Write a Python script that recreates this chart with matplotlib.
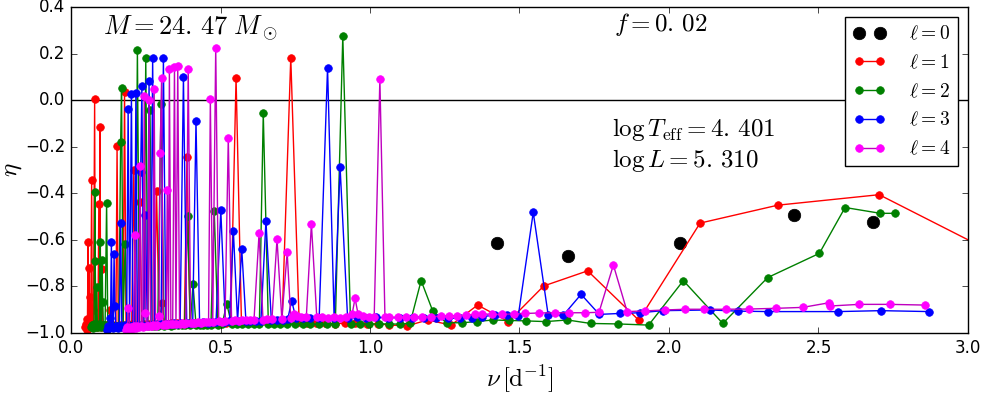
import numpy as np
import matplotlib
matplotlib.use("Agg")
import matplotlib.pyplot as plt

plt.style.use("classic")

# l = 0 radial modes
nu_l0 = [1.424, 1.662, 2.037, 2.418, 2.682]
eta_l0 = [-0.612, -0.670, -0.614, -0.494, -0.524]

# l = 1
nu_l1 = [0.047, 0.050, 0.053, 0.055, 0.057, 0.059, 0.060, 0.061, 0.062, 0.064,
         0.066, 0.069, 0.071, 0.073, 0.075, 0.079, 0.081, 0.084, 0.087, 0.090,
         0.093, 0.095, 0.097, 0.099, 0.101, 0.103, 0.106, 0.110, 0.114, 0.118,
         0.122, 0.126, 0.130, 0.134, 0.138, 0.142, 0.146, 0.150, 0.154, 0.158,
         0.163, 0.168, 0.174, 0.179, 0.184, 0.190, 0.196, 0.203, 0.210, 0.216,
         0.223, 0.230, 0.237, 0.245, 0.253, 0.262, 0.270, 0.278, 0.286, 0.295,
         0.304, 0.313, 0.323, 0.334, 0.345, 0.356, 0.368, 0.379, 0.388, 0.398,
         0.410, 0.423, 0.437, 0.452, 0.467, 0.483, 0.500, 0.517, 0.534, 0.552,
         0.570, 0.590, 0.610, 0.632, 0.655, 0.680, 0.706, 0.735, 0.763, 0.790,
         0.820, 0.850, 0.882, 0.915, 0.950, 0.990, 1.027, 1.065, 1.125, 1.193,
         1.271, 1.360, 1.463, 1.581, 1.728, 1.899, 2.104, 2.364, 2.703, 3.200]
eta_l1 = [-0.975, -0.960, -0.985, -0.940, -0.608, -0.975, -0.722, -0.980, -0.847, -0.975,
          -0.955, -0.343, -0.965, -0.900, -0.975, 0.003, -0.970, -0.960, -0.975, -0.965,
          -0.446, -0.970, -0.114, -0.965, -0.975, -0.727, -0.965, -0.975, -0.970, -0.965,
          -0.975, -0.965, -0.900, -0.970, -0.975, -0.965, -0.970, -0.975, -0.196, -0.970,
          -0.965, -0.975, -0.965, 0.035, -0.970, -0.965, -0.970, -0.960, -0.300, -0.965,
          -0.970, -0.436, -0.965, -0.960, -0.965, -0.960, -0.965, -0.960, -0.390, -0.962,
          -0.870, -0.962, -0.960, -0.958, -0.960, -0.958, -0.960, -0.958, -0.243, -0.958,
          -0.956, -0.958, -0.955, -0.957, -0.955, -0.956, -0.954, -0.955, -0.953, 0.096,
          -0.953, -0.952, -0.953, -0.951, -0.952, -0.950, -0.951, 0.183, -0.952, -0.955,
          -0.957, -0.958, -0.960, -0.958, -0.957, -0.962, -0.960, -0.966, -0.969, -0.944,
          -0.966, -0.880, -0.951, -0.798, -0.733, -0.945, -0.528, -0.451, -0.406, -0.730]

# l = 2
nu_l2 = [0.067, 0.070, 0.072, 0.075, 0.077, 0.080, 0.081, 0.083, 0.086, 0.088,
         0.090, 0.092, 0.095, 0.097, 0.099, 0.101, 0.104, 0.106, 0.108, 0.111,
         0.114, 0.119, 0.123, 0.127, 0.131, 0.136, 0.140, 0.145, 0.150, 0.155,
         0.160, 0.166, 0.169, 0.174, 0.181, 0.187, 0.194, 0.201, 0.208, 0.215,
         0.222, 0.229, 0.236, 0.243, 0.250, 0.257, 0.264, 0.272, 0.281, 0.290,
         0.301, 0.311, 0.322, 0.334, 0.346, 0.358, 0.370, 0.380, 0.390, 0.399,
         0.408, 0.418, 0.430, 0.443, 0.456, 0.468, 0.479, 0.491, 0.505, 0.521,
         0.537, 0.555, 0.573, 0.592, 0.612, 0.630, 0.643, 0.660, 0.680, 0.700,
         0.724, 0.748, 0.775, 0.800, 0.828, 0.856, 0.884, 0.909, 0.935, 0.965,
         0.998, 1.030, 1.065, 1.100, 1.134, 1.171, 1.210, 1.256, 1.307, 1.357,
         1.410, 1.465, 1.521, 1.588, 1.660, 1.738, 1.828, 1.932, 2.048, 2.180,
         2.330, 2.503, 2.589, 2.707, 2.755]
eta_l2 = [-0.975, -0.965, -0.980, -0.970, -0.960, -0.396, -0.691, -0.975, -0.804, -0.965,
          -0.975, -0.960, -0.970, -0.608, -0.965, -0.975, -0.687, -0.866, -0.965, -0.975,
          -0.965, -0.441, -0.970, -0.975, -0.965, -0.970, -0.975, -0.968, -0.972, -0.975,
          -0.968, -0.179, 0.053, -0.970, -0.618, -0.972, -0.968, -0.972, -0.970, -0.968,
          0.215, -0.970, -0.968, -0.972, 0.182, -0.968, -0.043, -0.970, -0.968, -0.970,
          -0.015, -0.968, -0.966, -0.968, -0.966, -0.967, -0.965, -0.966, -0.497, -0.966,
          -0.790, -0.965, -0.966, -0.964, -0.965, -0.964, -0.476, -0.964, -0.963, -0.875,
          -0.963, -0.962, -0.963, -0.962, -0.963, -0.961, -0.057, -0.962, -0.963, -0.962,
          -0.963, -0.962, -0.963, -0.961, -0.963, -0.962, -0.961, 0.275, -0.962, -0.960,
          -0.962, -0.961, -0.961, -0.962, -0.958, -0.775, -0.906, -0.956, -0.956, -0.951,
          -0.944, -0.946, -0.948, -0.951, -0.944, -0.959, -0.961, -0.966, -0.775, -0.959,
          -0.762, -0.658, -0.461, -0.486, -0.486]

# l = 3
nu_l3 = [0.120, 0.123, 0.126, 0.129, 0.132, 0.135, 0.138, 0.141, 0.144, 0.147,
         0.150, 0.154, 0.158, 0.162, 0.166, 0.170, 0.174, 0.178, 0.182, 0.186,
         0.191, 0.196, 0.202, 0.207, 0.212, 0.217, 0.222, 0.227, 0.233, 0.237,
         0.243, 0.249, 0.255, 0.261, 0.267, 0.273, 0.280, 0.287, 0.294, 0.301,
         0.309, 0.317, 0.326, 0.335, 0.345, 0.355, 0.365, 0.376, 0.387, 0.397,
         0.407, 0.418, 0.430, 0.443, 0.457, 0.471, 0.485, 0.501, 0.516, 0.530,
         0.543, 0.557, 0.571, 0.585, 0.600, 0.618, 0.635, 0.652, 0.670, 0.690,
         0.710, 0.725, 0.738, 0.752, 0.775, 0.800, 0.830, 0.858, 0.880, 0.900,
         0.925, 0.955, 0.985, 1.020, 1.060, 1.100, 1.140, 1.180, 1.220, 1.260,
         1.301, 1.340, 1.373, 1.418, 1.457, 1.496, 1.546, 1.596, 1.647, 1.706,
         1.767, 1.836, 1.903, 1.979, 2.137, 2.230, 2.330, 2.566, 2.709, 2.871]
eta_l3 = [-0.985, -0.970, -0.980, -0.937, -0.975, -0.608, -0.970, -0.980, -0.661, -0.884,
          -0.975, -0.968, -0.978, -0.970, -0.526, -0.975, -0.968, -0.975, -0.965, -0.975,
          -0.036, -0.970, 0.026, -0.972, -0.966, 0.031, -0.970, -0.965, -0.308, 0.061,
          -0.968, -0.492, -0.965, 0.082, -0.966, 0.182, -0.962, -0.965, -0.960, -0.963,
          0.179, -0.962, -0.960, -0.962, -0.958, -0.960, -0.958, 0.100, -0.958, -0.955,
          -0.957, -0.089, -0.955, -0.953, -0.955, -0.952, -0.953, -0.472, -0.952, -0.950,
          -0.561, -0.950, -0.639, -0.948, -0.949, -0.947, -0.948, -0.518, -0.946, -0.945,
          -0.944, -0.940, -0.861, -0.936, -0.937, -0.936, -0.935, 0.140, -0.935, -0.289,
          -0.934, -0.933, -0.934, -0.933, -0.934, -0.935, -0.936, -0.934, -0.937, -0.936,
          -0.937, -0.934, -0.930, -0.923, -0.923, -0.926, -0.482, -0.923, -0.923, -0.834,
          -0.920, -0.916, -0.913, -0.904, -0.901, -0.906, -0.908, -0.908, -0.904, -0.908]

# l = 4
nu_l4 = [0.184, 0.188, 0.192, 0.196, 0.200, 0.204, 0.209, 0.214, 0.218, 0.222,
         0.226, 0.231, 0.235, 0.240, 0.245, 0.249, 0.253, 0.257, 0.261, 0.266,
         0.270, 0.274, 0.278, 0.283, 0.288, 0.294, 0.298, 0.303, 0.308, 0.313,
         0.318, 0.322, 0.326, 0.329, 0.334, 0.340, 0.346, 0.351, 0.357, 0.363,
         0.370, 0.377, 0.384, 0.392, 0.400, 0.408, 0.416, 0.425, 0.434, 0.443,
         0.452, 0.460, 0.466, 0.474, 0.484, 0.494, 0.504, 0.515, 0.526, 0.537,
         0.549, 0.561, 0.573, 0.586, 0.599, 0.612, 0.629, 0.642, 0.656, 0.672,
         0.689, 0.705, 0.723, 0.735, 0.745, 0.755, 0.770, 0.787, 0.804, 0.822,
         0.840, 0.860, 0.880, 0.900, 0.920, 0.940, 0.950, 0.960, 0.975, 0.995,
         1.014, 1.033, 1.050, 1.065, 1.093, 1.120, 1.146, 1.174, 1.203, 1.237,
         1.264, 1.290, 1.320, 1.350, 1.373, 1.408, 1.440, 1.480, 1.520, 1.565,
         1.620, 1.667, 1.720, 1.766, 1.814, 1.860, 1.920, 1.987, 2.054, 2.118,
         2.190, 2.269, 2.357, 2.447, 2.536, 2.539, 2.636, 2.739, 2.856]
eta_l4 = [-0.985, -0.975, -0.894, -0.980, -0.975, -0.982, -0.972, -0.577, -0.978, -0.970,
          -0.975, -0.282, -0.970, -0.975, 0.017, -0.913, -0.970, -0.972, 0.000, -0.968,
          -0.972, -0.965, 0.047, -0.968, -0.965, -0.927, -0.229, 0.096, -0.965, -0.962,
          -0.966, -0.386, -0.962, 0.133, -0.963, -0.960, 0.143, -0.962, 0.147, -0.960,
          -0.958, -0.960, -0.957, 0.132, -0.957, -0.955, -0.957, -0.954, -0.955, -0.953,
          -0.954, -0.952, 0.003, -0.952, 0.226, -0.950, -0.951, -0.948, -0.162, -0.948,
          -0.946, -0.947, -0.945, -0.945, -0.943, -0.944, -0.572, -0.942, -0.941, -0.940,
          -0.597, -0.939, -0.654, -0.935, -0.920, -0.927, -0.930, -0.931, -0.532, -0.932,
          -0.933, -0.934, -0.933, -0.934, -0.932, -0.920, -0.851, -0.918, -0.928, -0.933,
          -0.932, 0.090, -0.933, -0.933, -0.932, -0.931, -0.930, -0.930, -0.930, -0.928,
          -0.927, -0.925, -0.924, -0.920, -0.918, -0.920, -0.920, -0.918, -0.916, -0.914,
          -0.913, -0.913, -0.913, -0.911, -0.708, -0.908, -0.905, -0.901, -0.898, -0.898,
          -0.898, -0.897, -0.894, -0.890, -0.870, -0.884, -0.877, -0.877, -0.880]

fig = plt.figure(figsize=(9.81, 3.94), facecolor="white")
ax = fig.add_axes([0.0724, 0.1548, 0.9143, 0.8274])

ax.axhline(0.0, color="black", lw=1.0)

ax.plot(nu_l0, eta_l0, "o", color="black", mec="black", ms=9, label=r"$\ell=0$")
ax.plot(nu_l1, eta_l1, "-o", color="r", mec="r", ms=5.5, label=r"$\ell=1$")
ax.plot(nu_l2, eta_l2, "-o", color="g", mec="g", ms=5.5, label=r"$\ell=2$")
ax.plot(nu_l3, eta_l3, "-o", color="b", mec="b", ms=5.5, label=r"$\ell=3$")
ax.plot(nu_l4, eta_l4, "-o", color="m", mfc="magenta", mec="magenta", ms=5.5, label=r"$\ell=4$")

ax.set_xlim(0.0, 3.0)
ax.set_ylim(-1.0, 0.4)
ax.set_xticks(np.arange(0.0, 3.01, 0.5))
ax.set_yticks(np.arange(-1.0, 0.41, 0.2))
ax.tick_params(labelsize=12)

ax.set_xlabel(r"$\nu\,[\mathrm{d}^{-1}]$", fontsize=18)
ax.set_ylabel(r"$\eta$", fontsize=18, labelpad=1)

ax.text(0.036, 0.936, r"$M=24.\,47\;M_\odot$", transform=ax.transAxes, fontsize=19, va="center")
ax.text(0.605, 0.945, r"$f=0.\,02$", transform=ax.transAxes, fontsize=18, va="center")
ax.text(0.603, 0.623, r"$\log T_\mathrm{eff}=4.\,401$", transform=ax.transAxes, fontsize=18, va="center")
ax.text(0.603, 0.528, r"$\log L=5.\,310$", transform=ax.transAxes, fontsize=18, va="center")

ax.legend(loc="upper right", numpoints=2, fontsize=14, handlelength=1.7,
          handletextpad=1.2, fancybox=False)

fig.savefig("out.png", dpi=100, facecolor="white")
